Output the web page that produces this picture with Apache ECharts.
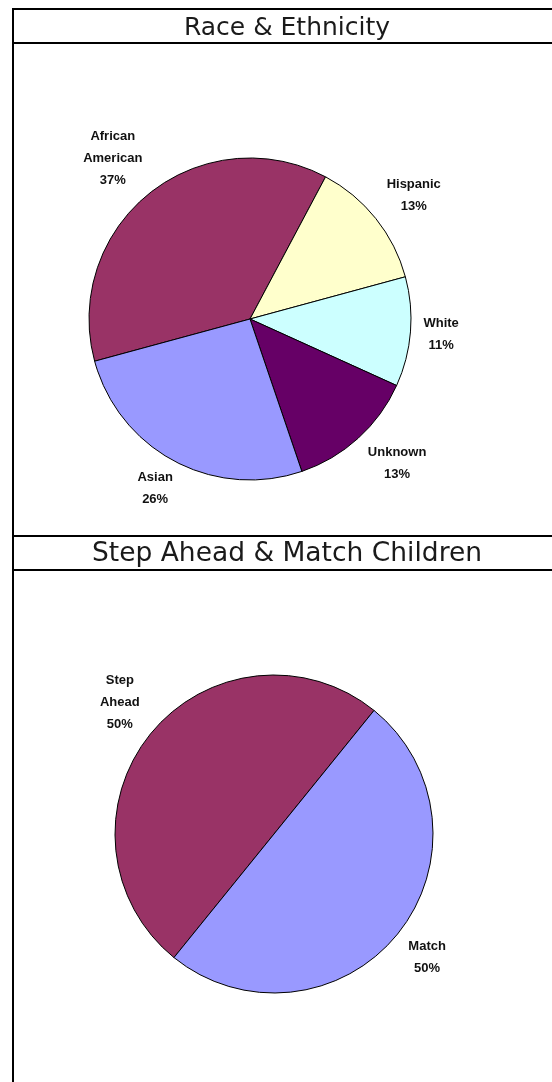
<!DOCTYPE html>
<html>
<head>
<meta charset="utf-8">
<script src="https://cdn.jsdelivr.net/npm/echarts@6/dist/echarts.min.js"></script>
<style>
html,body{margin:0;padding:0;background:#fff;}
#c{width:552px;height:1082px;}
</style>
</head>
<body>
<div id="c"></div>
<script>
const titles = ['Race & Ethnicity', 'Step Ahead & Match Children'];
const raceCategories = ['African American', 'Hispanic', 'White', 'Unknown', 'Asian'];
const raceValues = [37, 13, 11, 13, 26];
const raceColors = ['#993366', '#FFFFCC', '#CCFFFF', '#660066', '#9999FF'];
const groupCategories = ['Step Ahead', 'Match'];
const groupValues = [50, 50];
const groupColors = ['#993366', '#9999FF'];

// layout (not data)
const pies = [
  { cats: raceCategories, vals: raceValues, cols: raceColors, center: [250, 319], r: 161, start: 254.8 },
  { cats: groupCategories, vals: groupValues, cols: groupColors, center: [274, 834], r: 159, start: 219 }
];
const GAP = 10, K = 1.5;

function midAngles(vals, start) {
  const total = vals.reduce((a, b) => a + b, 0);
  let acc = start;
  return vals.map(v => { const a = acc + v / total * 180; acc += v / total * 360; return a; });
}

function makeSeries(p) {
  const mids = midAngles(p.vals, p.start);
  return {
    type: 'pie', center: p.center, radius: p.r,
    startAngle: 90 - p.start, clockwise: true,
    animation: false, silent: true, avoidLabelOverlap: false,
    data: p.cats.map((c, i) => ({ name: c, value: p.vals[i], itemStyle: { color: p.cols[i] } })),
    itemStyle: { borderColor: '#000', borderWidth: 1 },
    label: {
      show: true, position: 'outside',
      fontFamily: 'Liberation Sans, Arial, sans-serif',
      fontWeight: 'bold', fontSize: 13, lineHeight: 22, color: '#111',
      formatter: q => q.name.replace(' ', '\n') + '\n' + q.value + '%'
    },
    labelLine: { show: false },
    labelLayout: function (params) {
      const th = mids[params.dataIndex] * Math.PI / 180;
      const ux = Math.sin(th), uy = -Math.cos(th);
      const w = params.labelRect.width + 6, h = params.labelRect.height * 0.82;
      const px = p.center[0] + (p.r + GAP) * ux;
      const py = p.center[1] + (p.r + GAP) * uy;
      const cx = Math.max(-1, Math.min(1, ux * K));
      const cy = Math.max(-1, Math.min(1, uy * K));
      return { x: px + cx * w / 2, y: py + cy * h / 2, align: 'center', verticalAlign: 'middle' };
    }
  };
}

const lineStyle = { stroke: '#000', lineWidth: 2 };
const hLines = [9, 43, 536, 570].map(y => ({
  type: 'line', shape: { x1: 12, y1: y, x2: 552, y2: y }, style: lineStyle, silent: true
}));
const titleText = { fontFamily: 'DejaVu Sans', fontWeight: 'normal', fontSize: 25, lineHeight: 32, color: '#1a1a1a' };
const titleText2 = Object.assign({}, titleText, { fontSize: 26.5 });

const chart = echarts.init(document.getElementById('c'), null, { renderer: 'canvas' });
chart.setOption({
  backgroundColor: '#fff',
  animation: false,
  title: [
    { text: titles[0], left: 287, top: 12, textAlign: 'center', padding: 0, textStyle: titleText },
    { text: titles[1], left: 287, top: 538, textAlign: 'center', padding: 0, textStyle: titleText2 }
  ],
  graphic: [
    { type: 'line', shape: { x1: 13, y1: 8, x2: 13, y2: 1082 }, style: lineStyle, silent: true }
  ].concat(hLines),
  series: pies.map(makeSeries)
});
</script>
</body>
</html>
